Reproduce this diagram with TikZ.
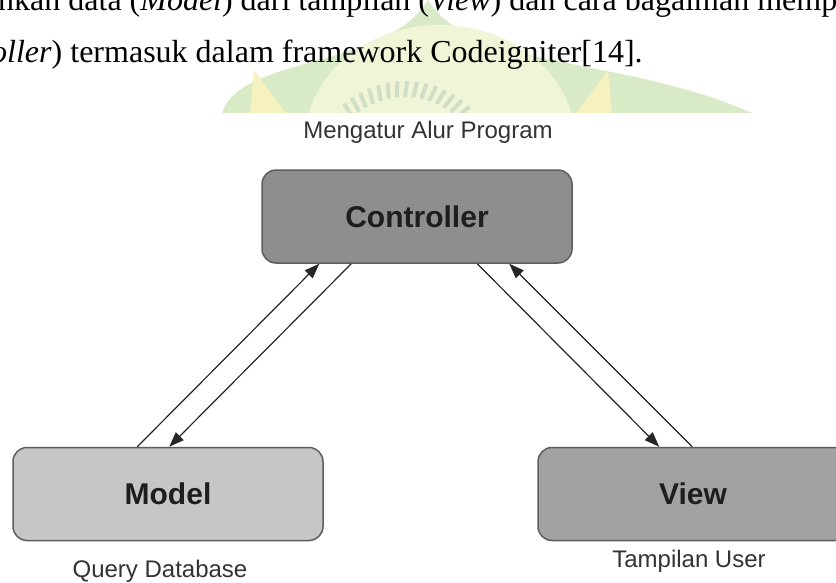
\documentclass[tikz,border=0pt]{standalone}
\usepackage{fontspec}
\setmainfont{Liberation Serif}
\newfontfamily\diagfont{Liberation Sans}
\usetikzlibrary{arrows.meta}
\usepackage{xcolor}
\definecolor{ctrlgray}{HTML}{8E8E8E}
\definecolor{modelgray}{HTML}{C6C6C6}
\definecolor{viewgray}{HTML}{A2A2A2}
\definecolor{boxedge}{HTML}{5E5E5E}
\definecolor{labeltext}{HTML}{1E1E1E}
\definecolor{notetext}{HTML}{333333}
\definecolor{linegray}{HTML}{262626}
\definecolor{wmgreen}{HTML}{D8EBC6}
\definecolor{wminner}{HTML}{EFF5D6}
\definecolor{wmyellow}{HTML}{F5F2C0}
\definecolor{wmtick}{HTML}{D0DEC8}

\begin{document}
\begin{tikzpicture}[x=1pt, y=-1pt,
      mvc/.style={rectangle, rounded corners=14pt, draw=boxedge, line width=1.5pt, minimum width=310pt, minimum height=93pt, text=labeltext, font=\diagfont\bfseries\fontsize{30}{36}\selectfont},
      note/.style={text=notetext, inner sep=0pt, anchor=base, font=\diagfont\fontsize{24}{28}\selectfont},
      paper/.style={inner sep=0pt, anchor=base west, font=\fontsize{32}{40}\selectfont},
      flow/.style={-{Triangle[length=15pt, width=11pt]}, line width=1.2pt, linegray},
    ]
    \useasboundingbox (0,0) rectangle (836,582);
    \clip (0,0) rectangle (836,582);

    % faint logo behind the page text
    \begin{scope}
      \clip (0,0) rectangle (836,113);
      \fill[wmgreen] (222,113) .. controls (240,55) and (385,70) .. (428,0) .. controls (471,70) and (620,55) .. (752,113) -- cycle;
      \fill[wminner] (440,140) ellipse [x radius=135, y radius=115];
      \fill[wmyellow] (250,113) -- (254,70) -- (286,113) -- cycle;
      \fill[wmyellow] (576,113) -- (608,70) -- (612,113) -- cycle;
      \foreach \a in {48,54,...,132}
        \draw[wmtick, line width=4pt] (405,175) ++(-\a:78) -- ++(-\a+8:16);
    \end{scope}

    \node[paper] (line1) at (-2,10) {nkan data (\textit{Model}) dari tampilan (\textit{View}) dan cara bagaiman memp};
    \node[paper] (line2) at (-9,62) {\textit{oller}) termasuk dalam framework Codeigniter[14].};

    % the pasted figure
    \fill[white] (0,113) rectangle (836,582);

    \node[mvc, fill=ctrlgray] (ctrl) at (417,216.5) {Controller};
    \node[mvc, fill=modelgray] (model) at (168,494) {Model};
    \node[mvc, fill=viewgray] (view) at (693,494) {View};

    \node[note] (ctrlnote) at (428,138) {Mengatur Alur Program};
    \node[note] (modelnote) at (160,577) {Query Database};
    \node[note] (viewnote) at (689,567) {Tampilan User};

    \draw[flow] ([xshift=125pt]model.north west) -- ([xshift=58pt]ctrl.south west);
    \draw[flow] ([xshift=90pt]ctrl.south west) -- ([xshift=157pt]model.north west);
    \draw[flow] ([xshift=216pt]ctrl.south west) -- ([xshift=122pt]view.north west);
    \draw[flow] ([xshift=155pt]view.north west) -- ([xshift=248pt]ctrl.south west);
  \end{tikzpicture}
\end{document}
